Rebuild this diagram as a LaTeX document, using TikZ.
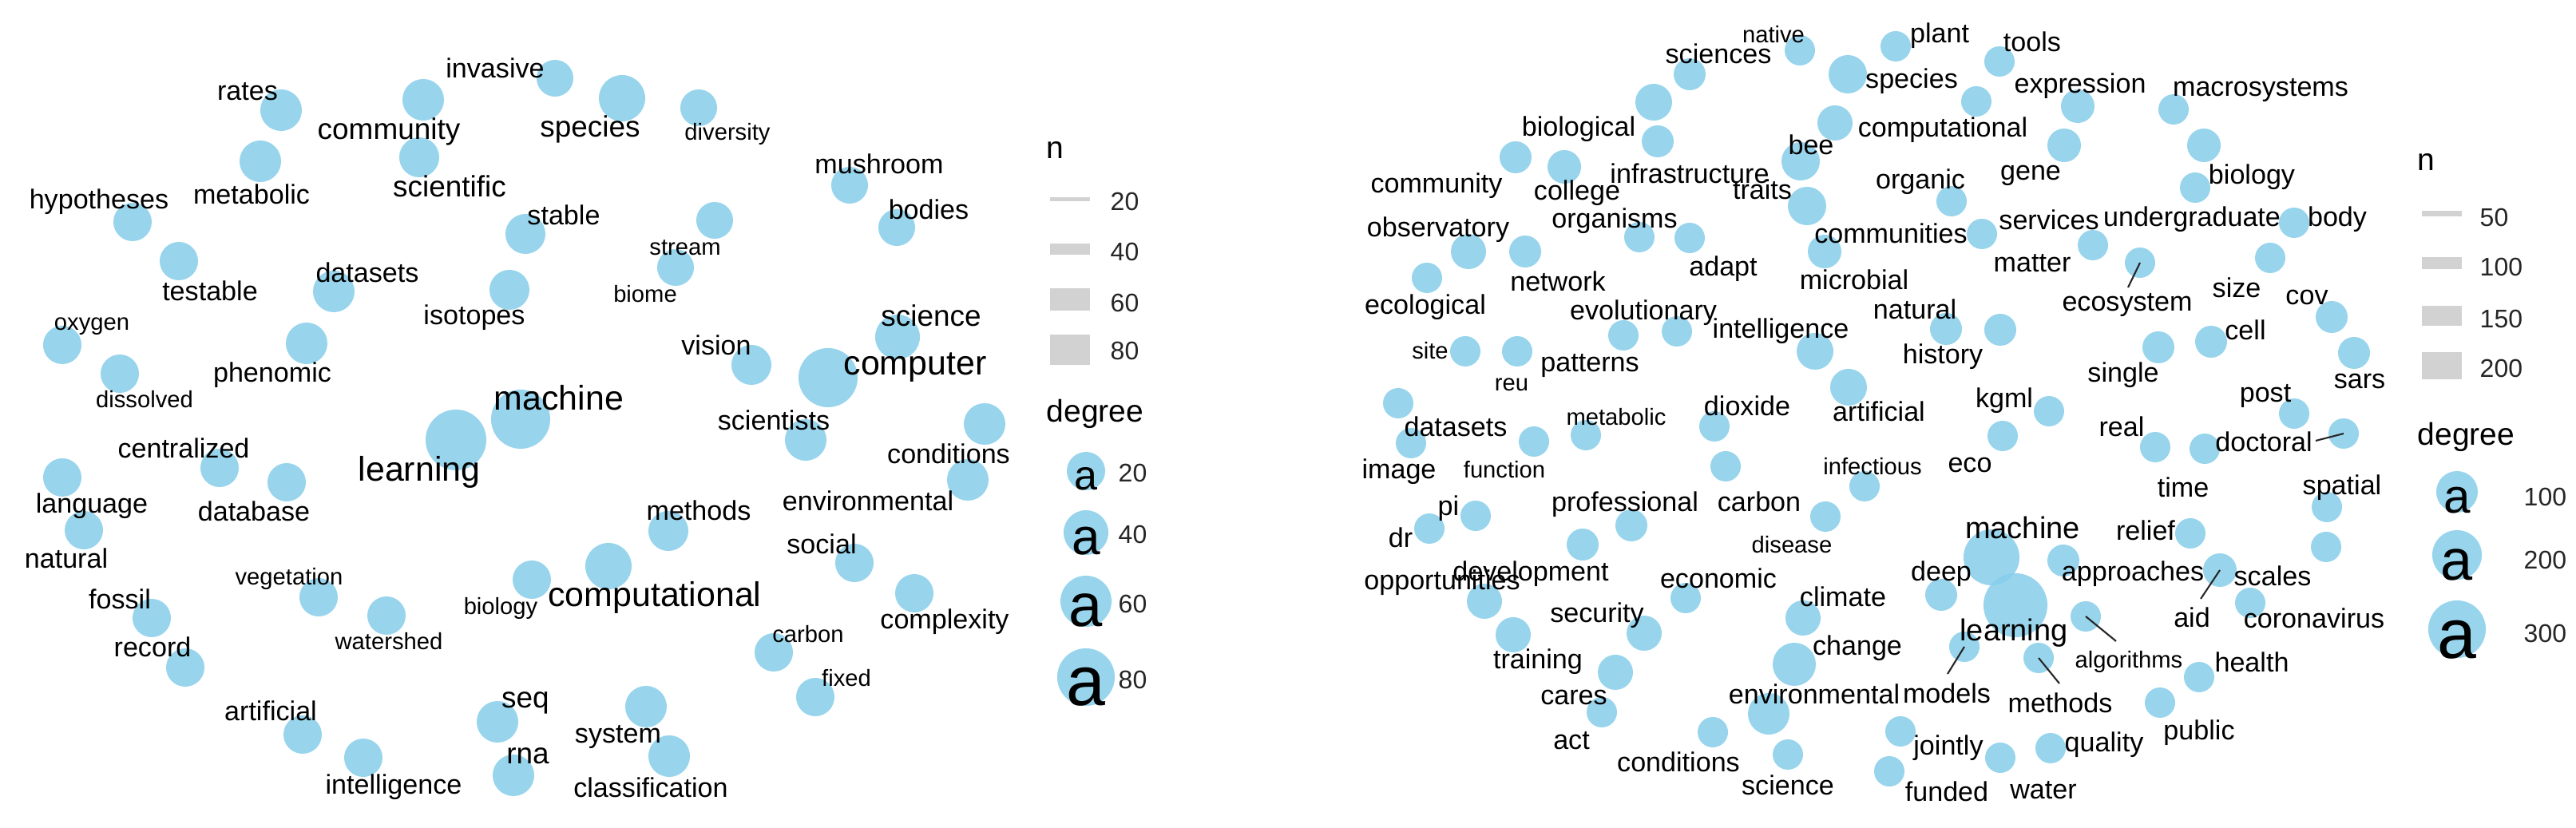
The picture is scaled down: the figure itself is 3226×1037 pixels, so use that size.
\documentclass[tikz,border=0pt]{standalone}
\usepackage{fontspec}
\setmainfont{Liberation Sans}
\usetikzlibrary{backgrounds}
\definecolor{nodeblue}{RGB}{135,206,235}
\definecolor{edgegray}{RGB}{210,210,210}
\tikzset{
 nd/.style={circle, inner sep=0pt, draw=none, fill=nodeblue, fill opacity=0.85, minimum size=#1*0.02cm},
 ed/.style={draw=edgegray, line width=#1*0.2845pt},
 ed/.default=4,
 lbl/.style={inner sep=0pt, text=black},
 ls/.style={lbl, font=\fontsize{8.3pt}{9pt}\selectfont},
 ln/.style={lbl, font=\fontsize{9.7pt}{11pt}\selectfont},
 lm/.style={lbl, font=\fontsize{10.5pt}{12pt}\selectfont},
 lL/.style={lbl, font=\fontsize{12.2pt}{14pt}\selectfont},
 lR/.style={lbl, font=\fontsize{10.8pt}{12pt}\selectfont},
 ldr/.style={draw=black!85, line width=0.6pt},
 keyr/.style={inner sep=0pt, draw=none, fill=edgegray, minimum width=0.5cm, minimum height=#1*0.01cm},
 ltitle/.style={lbl, anchor=west, font=\fontsize{11.1pt}{13pt}\selectfont},
 lnum/.style={lbl, anchor=west, text=black!85, font=\fontsize{9.1pt}{11pt}\selectfont},
 lga/.style={lbl, anchor=base, font=\fontsize{#1}{#1}\selectfont},
}
\begin{document}
\begin{tikzpicture}[x=0.01cm, y=-0.01cm]
\useasboundingbox (0,0) rectangle (3226,1037);
\fill[white] (0,0) rectangle (3226,1037);

% ================= LEFT PANEL: vertices =================
\node[nd=23] (invasiveL) at (695,98) {};
\node[nd=29] (speciesL) at (779,123) {};
\node[nd=23] (diversityL) at (875,135) {};
\node[nd=26] (ratesL) at (352,138) {};
\node[nd=26] (metabolicL) at (326,202) {};
\node[nd=26] (communityL) at (530,125) {};
\node[nd=25] (scientificL) at (525,197) {};
\node[nd=24] (hypothesesL) at (166,278) {};
\node[nd=24] (testableL) at (224,327) {};
\node[nd=24] (oxygenL) at (78,432) {};
\node[nd=24] (dissolvedL) at (150,468) {};
\node[nd=26] (datasetsL) at (418,365) {};
\node[nd=26] (phenomicL) at (384,430) {};
\node[nd=25] (stableL) at (658,293) {};
\node[nd=25] (isotopesL) at (638,363) {};
\node[nd=23] (streamL) at (895,276) {};
\node[nd=23] (biomeL) at (846,335) {};
\node[nd=23] (mushroomL) at (1064,232) {};
\node[nd=23] (bodiesL) at (1123,285) {};
\node[nd=28] (scienceL) at (1124,422) {};
\node[nd=37] (computerL) at (1037,473) {};
\node[nd=25] (visionL) at (941,457) {};
\node[nd=26] (scientistsL) at (1009,551) {};
\node[nd=37] (machineL) at (652,525) {};
\node[nd=38] (learningL) at (571,551) {};
\node[nd=26] (conditionsL) at (1233,531) {};
\node[nd=26] (environmentalL) at (1212,601) {};
\node[nd=24] (centralizedL) at (275,586) {};
\node[nd=24] (databaseL) at (359,604) {};
\node[nd=24] (languageL) at (78,598) {};
\node[nd=24] (naturalL) at (105,664) {};
\node[nd=25] (methodsL) at (837,665) {};
\node[nd=29] (computationalL) at (762,709) {};
\node[nd=24] (biologyL) at (666,726) {};
\node[nd=24] (socialL) at (1070,705) {};
\node[nd=24] (complexityL) at (1145,743) {};
\node[nd=24] (carbonL) at (969,817) {};
\node[nd=24] (fixedL) at (1021,873) {};
\node[nd=24] (fossilL) at (190,774) {};
\node[nd=24] (recordL) at (232,836) {};
\node[nd=24] (vegetationL) at (399,748) {};
\node[nd=24] (watershedL) at (484,771) {};
\node[nd=24] (artificialL) at (379,920) {};
\node[nd=24] (intelligenceL) at (455,949) {};
\node[nd=26] (seqL) at (623,904) {};
\node[nd=26] (rnaL) at (643,971) {};
\node[nd=26] (systemL) at (809,885) {};
\node[nd=26] (classificationL) at (838,947) {};

% ================= LEFT PANEL: labels =================
\node[ln] (invasiveL-t) at (620,85) {invasive};
\node[lm] (speciesL-t) at (739,162) {species};
\node[ls] (diversityL-t) at (911,168) {diversity};
\node[ln] (ratesL-t) at (310,115) {rates};
\node[ln] (metabolicL-t) at (315,243) {metabolic};
\node[lm] (communityL-t) at (487,165) {community};
\node[lm] (scientificL-t) at (563,233) {scientific};
\node[ln] (hypothesesL-t) at (124,253) {hypotheses};
\node[ln] (testableL-t) at (263,364) {testable};
\node[ls] (oxygenL-t) at (115,409) {oxygen};
\node[ls] (dissolvedL-t) at (181,500) {dissolved};
\node[ln] (datasetsL-t) at (460,341) {datasets};
\node[ln] (phenomicL-t) at (341,470) {phenomic};
\node[ln] (stableL-t) at (706,269) {stable};
\node[ln] (isotopesL-t) at (594,398) {isotopes};
\node[ls] (streamL-t) at (858,310) {stream};
\node[ls] (biomeL-t) at (808,368) {biome};
\node[ln] (mushroomL-t) at (1101,205) {mushroom};
\node[ln] (bodiesL-t) at (1163,262) {bodies};
\node[lm] (scienceL-t) at (1166,395) {science};
\node[lL] (computerL-t) at (1146,460) {computer};
\node[ln] (visionL-t) at (897,432) {vision};
\node[ln] (scientistsL-t) at (969,526) {scientists};
\node[lL] (machineL-t) at (700,498) {machine};
\node[lL] (learningL-t) at (525,591) {learning};
\node[ln] (conditionsL-t) at (1188,568) {conditions};
\node[ln] (environmentalL-t) at (1087,627) {environmental};
\node[ln] (centralizedL-t) at (230,561) {centralized};
\node[ln] (databaseL-t) at (318,640) {database};
\node[ln] (languageL-t) at (115,634) {language};
\node[ln] (naturalL-t) at (83,699) {natural};
\node[ln] (methodsL-t) at (875,639) {methods};
\node[lL] (computationalL-t) at (820,748) {computational};
\node[ls] (biologyL-t) at (627,762) {biology};
\node[ln] (socialL-t) at (1029,681) {social};
\node[ln] (complexityL-t) at (1183,779) {complexity};
\node[ls] (carbonL-t) at (1012,794) {carbon};
\node[ls] (fixedL-t) at (1060,849) {fixed};
\node[ln] (fossilL-t) at (150,750) {fossil};
\node[ln] (recordL-t) at (191,810) {record};
\node[ls] (vegetationL-t) at (362,725) {vegetation};
\node[ls] (watershedL-t) at (487,803) {watershed};
\node[ln] (artificialL-t) at (339,890) {artificial};
\node[ln] (intelligenceL-t) at (493,986) {intelligence};
\node[lm] (seqL-t) at (658,880) {seq};
\node[lm] (rnaL-t) at (661,947) {rna};
\node[ln] (systemL-t) at (774,923) {system};
\node[ln] (classificationL-t) at (815,986) {classification};

% ================= RIGHT PANEL: vertices =================
\node[nd=19] (nativeR) at (2254,63) {};
\node[nd=24] (speciesR) at (2314,93) {};
\node[nd=19] (plantR) at (2374,58) {};
\node[nd=20] (sciencesR) at (2116,93) {};
\node[nd=23] (biologicalR) at (2071,128) {};
\node[nd=20] (infrastructureR) at (2076,177) {};
\node[nd=20] (communityR) at (1898,197) {};
\node[nd=21] (collegeR) at (1959,209) {};
\node[nd=22] (observatoryR) at (1839,315) {};
\node[nd=20] (networkR) at (1910,315) {};
\node[nd=19] (ecologicalR) at (1787,348) {};
\node[nd=19] (organismsR) at (2053,297) {};
\node[nd=19] (adaptR) at (2116,298) {};
\node[nd=19] (evolutionaryR) at (2033,420) {};
\node[nd=19] (patternsR) at (2100,415) {};
\node[nd=19] (siteR) at (1835,440) {};
\node[nd=19] (reuR) at (1900,440) {};
\node[nd=19] (datasetsR) at (1751,505) {};
\node[nd=19] (imageR) at (1767,555) {};
\node[nd=19] (functionR) at (1921,553) {};
\node[nd=19] (metabolicR) at (1986,545) {};
\node[nd=19] (piR) at (1848,646) {};
\node[nd=19] (drR) at (1790,662) {};
\node[nd=20] (professionalR) at (2043,658) {};
\node[nd=20] (developmentR) at (1982,682) {};
\node[nd=22] (opportunitiesR) at (1859,753) {};
\node[nd=22] (trainingR) at (1895,795) {};
\node[nd=19] (economicR) at (2111,749) {};
\node[nd=22] (securityR) at (2059,793) {};
\node[nd=22] (caresR) at (2023,842) {};
\node[nd=19] (actR) at (2006,892) {};
\node[nd=19] (dioxideR) at (2147,534) {};
\node[nd=19] (carbonR) at (2161,584) {};
\node[nd=23] (intelligenceR) at (2273,440) {};
\node[nd=23] (artificialR) at (2315,485) {};
\node[nd=19] (infectiousR) at (2335,609) {};
\node[nd=19] (diseaseR) at (2286,647) {};
\node[nd=22] (beeR) at (2298,154) {};
\node[nd=24] (traitsR) at (2255,202) {};
\node[nd=24] (communitiesR) at (2263,258) {};
\node[nd=21] (microbialR) at (2285,315) {};
\node[nd=19] (toolsR) at (2504,77) {};
\node[nd=19] (computationalR) at (2475,127) {};
\node[nd=21] (expressionR) at (2602,133) {};
\node[nd=21] (geneR) at (2585,182) {};
\node[nd=19] (macrosystemsR) at (2722,137) {};
\node[nd=21] (biologyR) at (2760,182) {};
\node[nd=19] (undergraduateR) at (2749,235) {};
\node[nd=19] (organicR) at (2444,252) {};
\node[nd=19] (matterR) at (2482,293) {};
\node[nd=19] (servicesR) at (2621,307) {};
\node[nd=19] (ecosystemR) at (2680,329) {};
\node[nd=19] (bodyR) at (2873,279) {};
\node[nd=19] (sizeR) at (2843,323) {};
\node[nd=20] (covR) at (2920,397) {};
\node[nd=20] (sarsR) at (2948,442) {};
\node[nd=20] (cellR) at (2769,428) {};
\node[nd=20] (singleR) at (2703,435) {};
\node[nd=20] (naturalR) at (2437,412) {};
\node[nd=20] (historyR) at (2505,413) {};
\node[nd=19] (kgmlR) at (2566,515) {};
\node[nd=19] (ecoR) at (2508,546) {};
\node[nd=19] (realR) at (2699,560) {};
\node[nd=19] (timeR) at (2761,562) {};
\node[nd=19] (postR) at (2873,518) {};
\node[nd=19] (doctoralR) at (2935,543) {};
\node[nd=19] (spatialR) at (2914,635) {};
\node[nd=19] (scalesR) at (2913,685) {};
\node[nd=19] (reliefR) at (2743,668) {};
\node[nd=21] (aidR) at (2780,714) {};
\node[nd=19] (coronavirusR) at (2818,755) {};
\node[nd=35] (machineR) at (2494,698) {};
\node[nd=40] (learningR) at (2524,758) {};
\node[nd=20] (deepR) at (2431,745) {};
\node[nd=20] (approachesR) at (2584,702) {};
\node[nd=19] (algorithmsR) at (2612,772) {};
\node[nd=19] (methodsR) at (2553,824) {};
\node[nd=19] (modelsR) at (2460,810) {};
\node[nd=22] (climateR) at (2258,774) {};
\node[nd=27] (changeR) at (2247,832) {};
\node[nd=26] (environmentalR) at (2215,894) {};
\node[nd=19] (conditionsR) at (2145,917) {};
\node[nd=19] (scienceR) at (2239,945) {};
\node[nd=19] (jointlyR) at (2380,916) {};
\node[nd=19] (fundedR) at (2366,966) {};
\node[nd=19] (waterR) at (2505,949) {};
\node[nd=19] (qualityR) at (2568,937) {};
\node[nd=19] (healthR) at (2754,848) {};
\node[nd=19] (publicR) at (2705,880) {};

% ================= RIGHT PANEL: labels =================
\node[ls] (nativeR-t) at (2221,43) {native};
\node[ln] (sciencesR-t) at (2152,67) {sciences};
\node[ln] (plantR-t) at (2429,45) {plant};
\node[ln] (speciesR-t) at (2394,102) {species};
\node[ln] (toolsR-t) at (2545,52) {tools};
\node[ln] (expressionR-t) at (2605,108) {expression};
\node[ln] (macrosystemsR-t) at (2831,113) {macrosystems};
\node[ln] (biologicalR-t) at (1977,162) {biological};
\node[ln] (computationalR-t) at (2433,163) {computational};
\node[ln] (beeR-t) at (2268,181) {bee};
\node[ln] (geneR-t) at (2543,220) {gene};
\node[ln] (biologyR-t) at (2820,222) {biology};
\node[ln] (infrastructureR-t) at (2116,217) {infrastructure};
\node[ln] (communityR-t) at (1799,233) {community};
\node[ln] (collegeR-t) at (1975,242) {college};
\node[ln] (traitsR-t) at (2207,237) {traits};
\node[ln] (organicR-t) at (2405,228) {organic};
\node[ln] (servicesR-t) at (2566,275) {services};
\node[ln] (undergraduateR-t) at (2745,275) {undergraduate};
\node[ln] (bodyR-t) at (2927,275) {body};
\node[ln] (organismsR-t) at (2022,277) {organisms};
\node[ln] (observatoryR-t) at (1801,288) {observatory};
\node[ln] (communitiesR-t) at (2368,292) {communities};
\node[ln] (matterR-t) at (2545,330) {matter};
\node[ln] (adaptR-t) at (2158,337) {adapt};
\node[ln] (networkR-t) at (1951,352) {network};
\node[ln] (microbialR-t) at (2322,350) {microbial};
\node[ln] (sizeR-t) at (2801,360) {size};
\node[ln] (covR-t) at (2889,372) {cov};
\node[ln] (ecologicalR-t) at (1785,385) {ecological};
\node[ln] (ecosystemR-t) at (2664,382) {ecosystem};
\node[ln] (evolutionaryR-t) at (2058,392) {evolutionary};
\node[ln] (naturalR-t) at (2398,387) {natural};
\node[ln] (intelligenceR-t) at (2230,415) {intelligence};
\node[ln] (cellR-t) at (2812,413) {cell};
\node[ls] (siteR-t) at (1791,439) {site};
\node[ln] (historyR-t) at (2433,447) {history};
\node[ln] (patternsR-t) at (1991,458) {patterns};
\node[ln] (singleR-t) at (2659,470) {single};
\node[ln] (sarsR-t) at (2955,477) {sars};
\node[ls] (reuR-t) at (1893,482) {reu};
\node[ln] (postR-t) at (2837,496) {post};
\node[ln] (kgmlR-t) at (2510,502) {kgml};
\node[ln] (dioxideR-t) at (2188,508) {dioxide};
\node[ln] (artificialR-t) at (2353,515) {artificial};
\node[ls] (metabolicR-t) at (2024,522) {metabolic};
\node[ln] (datasetsR-t) at (1823,534) {datasets};
\node[ln] (realR-t) at (2657,534) {real};
\node[ln] (doctoralR-t) at (2835,553) {doctoral};
\node[ln] (ecoR-t) at (2467,582) {eco};
\node[ls] (infectiousR-t) at (2345,584) {infectious};
\node[ls] (functionR-t) at (1884,588) {function};
\node[ln] (imageR-t) at (1752,591) {image};
\node[ln] (timeR-t) at (2734,610) {time};
\node[ln] (spatialR-t) at (2933,611) {spatial};
\node[ln] (carbonR-t) at (2203,628) {carbon};
\node[ln] (professionalR-t) at (2035,632) {professional};
\node[ln] (piR-t) at (1814,637) {pi};
\node[lR] (machineR-t) at (2533,661) {machine};
\node[ln] (reliefR-t) at (2687,664) {relief};
\node[ln] (drR-t) at (1754,673) {dr};
\node[ls] (diseaseR-t) at (2244,682) {disease};
\node[ln] (developmentR-t) at (1917,719) {development};
\node[ln] (approachesR-t) at (2671,719) {approaches};
\node[ln] (deepR-t) at (2431,719) {deep};
\node[ln] (scalesR-t) at (2846,721) {scales};
\node[ln] (economicR-t) at (2152,724) {economic};
\node[ln] (opportunitiesR-t) at (1806,730) {opportunities};
\node[ln] (climateR-t) at (2308,747) {climate};
\node[ln] (securityR-t) at (2000,771) {security};
\node[ln] (aidR-t) at (2745,773) {aid};
\node[ln] (coronavirusR-t) at (2898,774) {coronavirus};
\node[lR] (learningR-t) at (2522,793) {learning};
\node[ln] (changeR-t) at (2326,812) {change};
\node[ls] (algorithmsR-t) at (2666,829) {algorithms};
\node[ln] (healthR-t) at (2820,829) {health};
\node[ln] (trainingR-t) at (1926,829) {training};
\node[ln] (modelsR-t) at (2438,868) {models};
\node[ln] (environmentalR-t) at (2272,869) {environmental};
\node[ln] (caresR-t) at (1971,873) {cares};
\node[ln] (methodsR-t) at (2580,880) {methods};
\node[ln] (publicR-t) at (2754,918) {public};
\node[ln] (actR-t) at (1968,928) {act};
\node[ln] (jointlyR-t) at (2440,937) {jointly};
\node[ln] (qualityR-t) at (2635,933) {quality};
\node[ln] (conditionsR-t) at (2102,954) {conditions};
\node[ln] (scienceR-t) at (2239,983) {science};
\node[ln] (fundedR-t) at (2438,991) {funded};
\node[ln] (waterR-t) at (2559,990) {water};

% leader lines (label to vertex)
\coordinate (ld-ecosystem) at (2665,360);
\coordinate (ld-doctoral) at (2900,552);
\coordinate (ld-aid) at (2756,750);
\coordinate (ld-algorithms) at (2650,803);
\coordinate (ld-methods) at (2579,856);
\coordinate (ld-models) at (2439,844);
\draw[ldr] (ld-ecosystem) -- (ecosystemR.center);
\draw[ldr] (ld-doctoral) -- (doctoralR.center);
\draw[ldr] (ld-aid) -- (aidR.center);
\draw[ldr] (ld-algorithms) -- (algorithmsR.center);
\draw[ldr] (ld-methods) -- (methodsR.center);
\draw[ldr] (ld-models) -- (modelsR.center);

% ================= legends =================
\node[ltitle] (nL-title) at (1310,188) {n};
\node[keyr=5] (kL1) at (1340,250) {};
\node[keyr=14] (kL2) at (1340,312) {};
\node[keyr=28] (kL3) at (1340,375) {};
\node[keyr=38] (kL4) at (1340,438) {};
\node[lnum] (kL1-t) at (1390,252) {20};
\node[lnum] (kL2-t) at (1390,315) {40};
\node[lnum] (kL3-t) at (1390,379) {60};
\node[lnum] (kL4-t) at (1390,439) {80};
\node[ltitle] (dL-title) at (1310,518) {degree};
\node[nd=24] (dL1) at (1360,590) {};
\node[nd=28] (dL2) at (1360,667) {};
\node[nd=32] (dL3) at (1360,753) {};
\node[nd=36] (dL4) at (1360,848) {};
\node[lga=14.8pt] (dL1-a) at (1360,614) {a};
\node[lga=18.2pt] (dL2-a) at (1360,695) {a};
\node[lga=21.6pt] (dL3-a) at (1360,785) {a};
\node[lga=25pt] (dL4-a) at (1360,884) {a};
\node[lnum] (dL1-t) at (1400,592) {20};
\node[lnum] (dL2-t) at (1400,669) {40};
\node[lnum] (dL3-t) at (1400,756) {60};
\node[lnum] (dL4-t) at (1400,851) {80};

\node[ltitle] (nR-title) at (3027,203) {n};
\node[keyr=7] (kR1) at (3058,268) {};
\node[keyr=15] (kR2) at (3058,330) {};
\node[keyr=25] (kR3) at (3058,396) {};
\node[keyr=34] (kR4) at (3058,458) {};
\node[lnum] (kR1-t) at (3105,272) {50};
\node[lnum] (kR2-t) at (3105,334) {100};
\node[lnum] (kR3-t) at (3105,399) {150};
\node[lnum] (kR4-t) at (3105,461) {200};
\node[ltitle] (dR-title) at (3027,547) {degree};
\node[nd=26] (dR1) at (3077,616) {};
\node[nd=31] (dR2) at (3077,695) {};
\node[nd=36] (dR3) at (3077,788) {};
\node[lga=17.1pt] (dR1-a) at (3077,643) {a};
\node[lga=20.5pt] (dR2-a) at (3077,727) {a};
\node[lga=25pt] (dR3-a) at (3077,825) {a};
\node[lnum] (dR1-t) at (3160,622) {100};
\node[lnum] (dR2-t) at (3160,701) {200};
\node[lnum] (dR3-t) at (3160,793) {300};

% ================= edges (behind vertices) =================
\begin{scope}[on background layer]
\draw[ed] (invasiveL.center) -- (speciesL.center);
\draw[ed] (speciesL.center) -- (diversityL.center);
\draw[ed] (ratesL.center) -- (metabolicL.center);
\draw[ed] (communityL.center) -- (scientificL.center);
\draw[ed] (hypothesesL.center) -- (testableL.center);
\draw[ed] (oxygenL.center) -- (dissolvedL.center);
\draw[ed=6] (datasetsL.center) -- (phenomicL.center);
\draw[ed] (stableL.center) -- (isotopesL.center);
\draw[ed] (streamL.center) -- (biomeL.center);
\draw[ed] (mushroomL.center) -- (bodiesL.center);
\draw[ed=12] (scienceL.center) -- (computerL.center);
\draw[ed=7] (computerL.center) -- (visionL.center);
\draw[ed=5] (computerL.center) -- (scientistsL.center);
\draw[ed=38] (machineL.center) -- (learningL.center);
\draw[ed] (conditionsL.center) -- (environmentalL.center);
\draw[ed] (centralizedL.center) -- (databaseL.center);
\draw[ed] (languageL.center) -- (naturalL.center);
\draw[ed=5] (methodsL.center) -- (computationalL.center);
\draw[ed=5] (computationalL.center) -- (biologyL.center);
\draw[ed] (socialL.center) -- (complexityL.center);
\draw[ed] (carbonL.center) -- (fixedL.center);
\draw[ed] (fossilL.center) -- (recordL.center);
\draw[ed] (vegetationL.center) -- (watershedL.center);
\draw[ed=5] (artificialL.center) -- (intelligenceL.center);
\draw[ed=5] (seqL.center) -- (rnaL.center);
\draw[ed] (systemL.center) -- (classificationL.center);

\draw[ed] (nativeR.center) -- (speciesR.center);
\draw[ed] (plantR.center) -- (speciesR.center);
\draw[ed] (speciesR.center) -- (beeR.center);
\draw[ed] (beeR.center) -- (traitsR.center);
\draw[ed] (traitsR.center) -- (communitiesR.center);
\draw[ed] (communitiesR.center) -- (microbialR.center);
\draw[ed] (sciencesR.center) -- (biologicalR.center);
\draw[ed] (biologicalR.center) -- (infrastructureR.center);
\draw[ed] (communityR.center) -- (collegeR.center);
\draw[ed] (observatoryR.center) -- (networkR.center);
\draw[ed] (observatoryR.center) -- (ecologicalR.center);
\draw[ed] (organismsR.center) -- (adaptR.center);
\draw[ed] (evolutionaryR.center) -- (patternsR.center);
\draw[ed] (siteR.center) -- (reuR.center);
\draw[ed] (datasetsR.center) -- (imageR.center);
\draw[ed] (functionR.center) -- (metabolicR.center);
\draw[ed] (piR.center) -- (drR.center);
\draw[ed=7] (professionalR.center) -- (developmentR.center);
\draw[ed] (opportunitiesR.center) -- (trainingR.center);
\draw[ed] (economicR.center) -- (securityR.center);
\draw[ed] (securityR.center) -- (caresR.center);
\draw[ed] (caresR.center) -- (actR.center);
\draw[ed] (dioxideR.center) -- (carbonR.center);
\draw[ed=10] (intelligenceR.center) -- (artificialR.center);
\draw[ed] (infectiousR.center) -- (diseaseR.center);
\draw[ed] (toolsR.center) -- (computationalR.center);
\draw[ed] (expressionR.center) -- (geneR.center);
\draw[ed] (macrosystemsR.center) -- (biologyR.center);
\draw[ed] (biologyR.center) -- (undergraduateR.center);
\draw[ed] (organicR.center) -- (matterR.center);
\draw[ed] (servicesR.center) -- (ecosystemR.center);
\draw[ed] (bodyR.center) -- (sizeR.center);
\draw[ed] (covR.center) -- (sarsR.center);
\draw[ed=7] (cellR.center) -- (singleR.center);
\draw[ed=7] (naturalR.center) -- (historyR.center);
\draw[ed] (kgmlR.center) -- (ecoR.center);
\draw[ed] (realR.center) -- (timeR.center);
\draw[ed] (postR.center) -- (doctoralR.center);
\draw[ed] (spatialR.center) -- (scalesR.center);
\draw[ed] (reliefR.center) -- (aidR.center);
\draw[ed] (aidR.center) -- (coronavirusR.center);
\draw[ed=30] (machineR.center) -- (learningR.center);
\draw[ed=7] (learningR.center) -- (deepR.center);
\draw[ed=7] (learningR.center) -- (approachesR.center);
\draw[ed=6] (learningR.center) -- (algorithmsR.center);
\draw[ed] (learningR.center) -- (methodsR.center);
\draw[ed] (learningR.center) -- (modelsR.center);
\draw[ed] (climateR.center) -- (changeR.center);
\draw[ed] (changeR.center) -- (environmentalR.center);
\draw[ed] (environmentalR.center) -- (conditionsR.center);
\draw[ed] (environmentalR.center) -- (scienceR.center);
\draw[ed] (jointlyR.center) -- (fundedR.center);
\draw[ed] (waterR.center) -- (qualityR.center);
\draw[ed] (healthR.center) -- (publicR.center);
\end{scope}
\end{tikzpicture}
\end{document}
